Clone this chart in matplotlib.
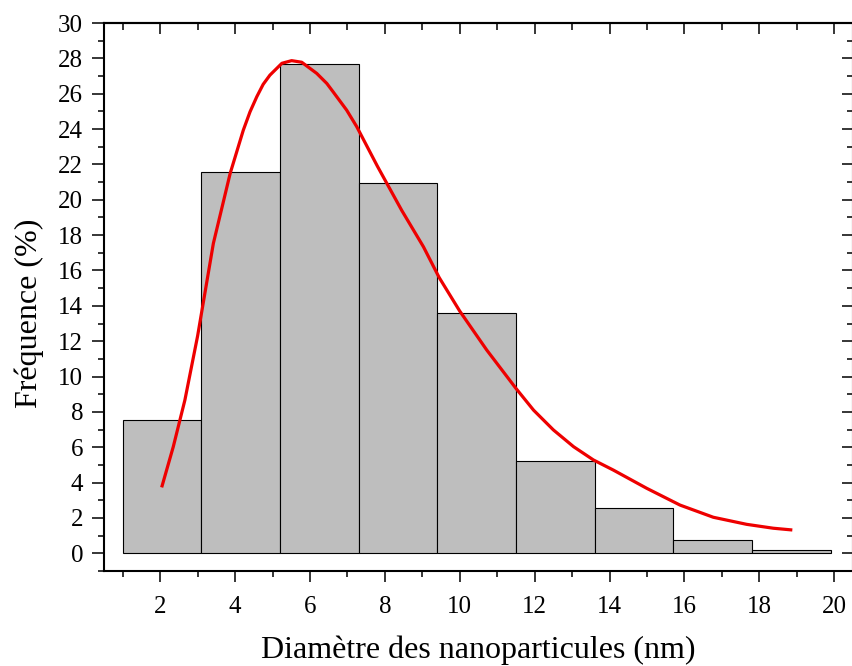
import matplotlib
matplotlib.use("Agg")
import matplotlib.pyplot as plt
from matplotlib.ticker import MultipleLocator

plt.rcParams['font.family'] = ['Liberation Serif', 'DejaVu Serif']

# histogram bins (nm) and frequencies (%)
bin_left = [1.0, 3.1, 5.2, 7.3, 9.4, 11.5, 13.6, 15.7, 17.8]
bin_width = 2.1
freq = [7.53, 21.55, 27.68, 20.94, 13.62, 5.22, 2.57, 0.74, 0.16]

# fitted curve, points
fit_x = [2.04, 2.35, 2.66, 3.0, 3.42, 3.87, 4.22, 4.4, 4.58, 4.75, 4.93, 5.25,
         5.51, 5.78, 6.18, 6.45, 6.62, 6.98, 7.25, 7.8, 8.45, 9.03, 9.45, 10.0,
         10.72, 11.5, 11.97, 12.5, 13.04, 13.57, 14.1, 14.99, 15.88, 16.77,
         17.66, 18.37, 18.88]
fit_y = [3.73, 6.03, 8.67, 12.3, 17.53, 21.5, 23.94, 24.98, 25.83, 26.53, 27.05,
         27.72, 27.87, 27.78, 27.15, 26.58, 26.1, 25.07, 24.13, 21.9, 19.4,
         17.34, 15.6, 13.7, 11.5, 9.33, 8.1, 6.98, 6.03, 5.28, 4.71, 3.68,
         2.73, 2.04, 1.64, 1.42, 1.32]

xticks = list(range(2, 21, 2))
yticks = list(range(0, 31, 2))

fig = plt.figure(figsize=(8.53, 6.66), dpi=100)
ax = fig.add_axes([104/853, 1-571/666, 749/853, 548/666])

ax.bar(bin_left, freq, width=bin_width, align='edge', color='#bebebe',
       edgecolor='black', linewidth=0.8, zorder=2)
ax.plot(fit_x, fit_y, color='#ee0000', linewidth=2.3, zorder=3,
        solid_capstyle='butt', solid_joinstyle='round')

ax.set_xlim(0.5, 20.5)
ax.set_ylim(-1, 30)
ax.set_xticks(xticks)
ax.set_yticks(yticks)
ax.xaxis.set_minor_locator(MultipleLocator(1))
ax.yaxis.set_minor_locator(MultipleLocator(1))

ax.tick_params(axis='both', which='both', direction='out', width=1.1,
               labelsize=18, top=False, right=False)
ax.tick_params(axis='x', which='major', length=8, pad=10)
ax.tick_params(axis='x', which='minor', length=4)
ax.tick_params(axis='y', which='major', length=9, pad=6)
ax.tick_params(axis='y', which='minor', length=4)
for s in ax.spines.values():
    s.set_linewidth(1.5)

# top and right ticks point inwards
secx = ax.secondary_xaxis('top')
secx.set_xticks(xticks)
secx.xaxis.set_minor_locator(MultipleLocator(1))
secx.tick_params(axis='x', which='both', direction='in', labeltop=False, width=1.1)
secx.tick_params(axis='x', which='major', length=8)
secx.tick_params(axis='x', which='minor', length=5)
secx.spines['top'].set_linewidth(1.5)

secy = ax.secondary_yaxis('right')
secy.set_yticks(yticks)
secy.yaxis.set_minor_locator(MultipleLocator(1))
secy.tick_params(axis='y', which='both', direction='in', labelright=False, width=1.1)
secy.tick_params(axis='y', which='major', length=8)
secy.tick_params(axis='y', which='minor', length=4)
secy.spines['right'].set_linewidth(1.5)

fig.text(478/853, 1-650/666, 'Diamètre des nanoparticules (nm)', fontsize=23,
         ha='center', va='center')
fig.text(29/853, 1-313/666, 'Fréquence (%)', fontsize=23, rotation=90,
         ha='center', va='center')

fig.savefig('out.png', dpi=100)
